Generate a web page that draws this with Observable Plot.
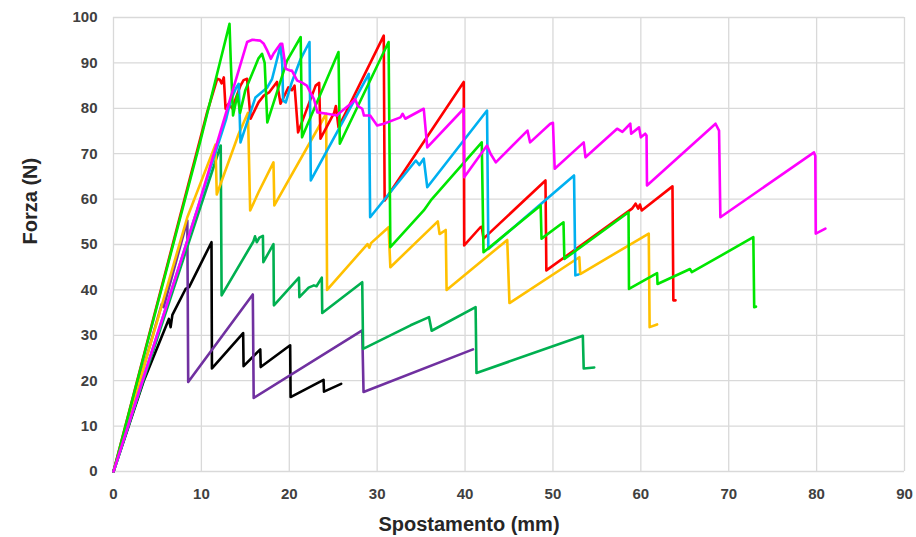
<!DOCTYPE html>
<html>
<head>
<meta charset="utf-8">
<script src="https://cdn.jsdelivr.net/npm/d3@7"></script>
<script src="https://cdn.jsdelivr.net/npm/@observablehq/plot@0.6"></script>
<style>
  html, body { margin: 0; padding: 0; background: #fff; }
  #chart svg { display: block; }
</style>
</head>
<body>
<div id="chart"></div>
<script>
// ---- data (Spostamento mm, Forza N) ----
const xTicks = [0, 10, 20, 30, 40, 50, 60, 70, 80, 90];
const yTicks = [0, 10, 20, 30, 40, 50, 60, 70, 80, 90, 100];

const blackX = [0, 3.45, 6.3, 6.5, 6.7, 8.2, 8.6, 11.15, 11.2, 14.75, 14.8, 16.7, 16.75, 20.1, 20.15, 23.9, 23.95, 25.9];
const blackY = [0, 20, 33.6, 31.8, 34.5, 40.2, 40.6, 50.5, 22.7, 30.5, 23.2, 26.9, 23, 27.8, 16.4, 20.2, 17.6, 19.3];

const purpleX = [0, 5.5, 5.7, 8.4, 8.5, 15.85, 15.95, 28.3, 28.45, 40.9];
const purpleY = [0, 36.9, 36.2, 55.3, 19.7, 39, 16.2, 31.1, 17.5, 26.9];

const dkgreenX = [0, 11.8, 12.2, 12.3, 15.9, 16.1, 16.3, 16.6, 17.0, 17.05, 18.2, 18.25, 21.1, 21.15, 22.2, 22.8, 23.1, 23.7, 23.75, 28.3, 28.4, 33.8, 35.9, 36.2, 41.2, 41.3, 53.4, 53.5, 54.7];
const dkgreenY = [0, 69.5, 71.8, 38.8, 50.6, 51.8, 50.5, 51.5, 51.9, 46.1, 50.1, 36.6, 42.7, 38.4, 40.5, 41, 40.8, 42.7, 34.9, 41.7, 27, 32.2, 34, 31, 36.2, 21.7, 29.9, 22.7, 22.9];

const orangeX = [0, 8.4, 11.6, 11.75, 14.25, 15.3, 15.55, 16.5, 18.2, 18.3, 24.2, 24.3, 28.9, 29.1, 29.3, 31.3, 31.5, 36.9, 37.1, 37.8, 37.9, 44.8, 45.05, 53.0, 53.1, 60.9, 61.0, 61.85];
const orangeY = [0, 56, 72, 61, 74.4, 79, 57.5, 61.5, 68.1, 58.6, 78.8, 40, 50.1, 49.3, 50.3, 53.8, 45, 55.1, 52.3, 53.2, 40, 51, 37.1, 47.2, 43.5, 52.4, 31.8, 32.4];

const redX = [0, 10.65, 11.8, 12.1, 12.3, 12.55, 12.75, 13.1, 13.5, 14.45, 14.8, 15.2, 15.6, 16.5, 17.1, 17.7, 18.6, 19.0, 19.9, 20.3, 20.6, 21.0, 23.0, 23.4, 23.55, 25.1, 25.3, 25.6, 30.75, 30.85, 39.85, 39.9, 41.75, 41.9, 42.1, 49.15, 49.25, 59.0, 59.4, 59.7, 59.9, 60.1, 63.6, 63.7, 63.95];
const redY = [0, 79.1, 86.5, 86.3, 85.5, 86.8, 79.9, 81, 80, 85, 86.2, 86.5, 77.7, 81.3, 82.8, 83.5, 85.8, 81, 84.6, 84, 85, 74.7, 85, 85.6, 73.3, 79, 80.5, 75.8, 96, 59.7, 85.8, 49.8, 53.8, 53.9, 51.3, 64.1, 44.3, 57.9, 59, 57.9, 58.8, 57.5, 62.8, 37.7, 37.7];

const blueX = [0, 12.8, 13.3, 13.9, 14.25, 14.45, 16.15, 17.5, 18.05, 19.0, 19.2, 19.3, 19.6, 20.3, 21.3, 22.3, 22.45, 29.05, 29.2, 34.4, 34.8, 35.3, 35.7, 42.5, 42.65, 52.4, 52.55, 52.9];
const blueY = [0, 77.5, 81.5, 84.3, 85.4, 72.5, 82.4, 84.6, 86.5, 93.8, 89.8, 81.7, 81.3, 85.8, 90.9, 94.6, 64.1, 87.6, 56, 68.5, 67.5, 68.9, 62.6, 79.5, 49, 65.2, 43.2, 43.4];

const greenX = [0, 9.9, 13.2, 13.35, 13.6, 14.1, 14.4, 15.0, 16.5, 16.9, 17.2, 17.5, 19.75, 21.3, 21.45, 25.6, 25.75, 31.3, 31.5, 35.3, 36.1, 41.9, 42.1, 48.6, 48.7, 51.2, 51.3, 58.6, 58.65, 61.85, 61.9, 65.6, 65.8, 72.8, 72.9, 73.1];
const greenY = [0, 72.9, 98.6, 90, 78.4, 83, 79, 84, 91, 92, 90, 76.9, 90.5, 95.7, 73.6, 92.4, 72.2, 94.6, 49.4, 57.5, 59.7, 72.5, 48.3, 58.6, 51.3, 54.9, 46.8, 57.1, 40.2, 43.7, 41.3, 44.6, 43.9, 51.6, 36.2, 36.3];

const magentaX = [0, 9.5, 15.2, 15.8, 16.7, 17.1, 17.5, 17.9, 18.2, 19.0, 19.2, 19.6, 20.1, 20.3, 20.9, 21.3, 22.0, 22.4, 22.8, 23.2, 24.3, 25.45, 25.6, 27.0, 27.5, 27.8, 28.3, 28.5, 29.2, 30.0, 30.75, 32.65, 32.9, 33.2, 35.3, 35.7, 39.85, 39.9, 42.5, 42.9, 43.5, 47.1, 47.4, 49.7, 50.0, 50.2, 53.5, 53.7, 57.3, 57.9, 58.8, 58.9, 59.8, 60.0, 60.5, 60.65, 60.7, 68.5, 68.9, 69.05, 79.7, 79.85, 79.9, 81.0];
const magentaY = [0, 57.5, 94.6, 95.1, 94.9, 94.2, 92.7, 90.9, 92, 94.2, 94.2, 88.7, 88.3, 88.3, 86.1, 85.8, 85, 83.5, 82.1, 79.1, 78.8, 78.4, 78.8, 81, 82, 80.5, 79.9, 78.4, 78.4, 76.2, 76.6, 78, 78.8, 77.7, 79.9, 71.4, 79.9, 64.8, 71.8, 70, 68.1, 75.1, 72.5, 76.6, 76.8, 66.7, 72.5, 69.2, 75.5, 74.8, 76.6, 74.4, 75.8, 73.6, 74.4, 74, 63, 76.6, 75.1, 56, 70.3, 69.5, 52.4, 53.5];

// draw order and colours
const seriesNames  = ["black", "purple", "dkgreen", "orange", "red", "blue", "green", "magenta"];
const seriesColors = ["#000000", "#7030a0", "#00b050", "#ffc000", "#ff0000", "#00b0f0", "#00e600", "#ff00ff"];
const seriesXs = [blackX, purpleX, dkgreenX, orangeX, redX, blueX, greenX, magentaX];
const seriesYs = [blackY, purpleY, dkgreenY, orangeY, redY, blueY, greenY, magentaY];

const font = "'Liberation Sans', Arial, sans-serif";

const lineMarks = seriesNames.map((name, i) => {
  const rows = seriesXs[i].map((x, j) => ({x, y: seriesYs[i][j], s: name}));
  return Plot.line(rows, {x: "x", y: "y", stroke: seriesColors[i], strokeWidth: 2.6, strokeLinejoin: "round", strokeLinecap: "round"});
});

const chart = Plot.plot({
  width: 916,
  height: 537,
  marginLeft: 113,
  marginRight: 12,
  marginTop: 17,
  marginBottom: 66,
  style: {background: "#fff", fontFamily: font},
  x: {domain: [0, 90]},
  y: {domain: [0, 100]},
  marks: [
    Plot.gridX(xTicks, {stroke: "#d9d9d9", strokeOpacity: 1, strokeWidth: 1.3}),
    Plot.gridY(yTicks, {stroke: "#d9d9d9", strokeOpacity: 1, strokeWidth: 1.3}),
    Plot.axisX(xTicks, {tickSize: 0, tickPadding: 17, label: null, fontSize: 15, fontWeight: "bold", fill: "#404040"}),
    Plot.axisY(yTicks, {tickSize: 0, tickPadding: 16, label: null, fontSize: 15, fontWeight: "bold", fill: "#404040"}),
    ...lineMarks,
    Plot.text(["Spostamento (mm)"], {frameAnchor: "bottom", dx: -40, dy: 53, text: d => d, fontSize: 20, fontWeight: "bold", fill: "#262626", lineAnchor: "middle"}),
    Plot.text(["Forza (N)"], {frameAnchor: "left", dx: -83, rotate: -90, text: d => d, fontSize: 20, fontWeight: "bold", fill: "#262626", lineAnchor: "middle"})
  ]
});
document.getElementById("chart").appendChild(chart);
</script>
</body>
</html>
